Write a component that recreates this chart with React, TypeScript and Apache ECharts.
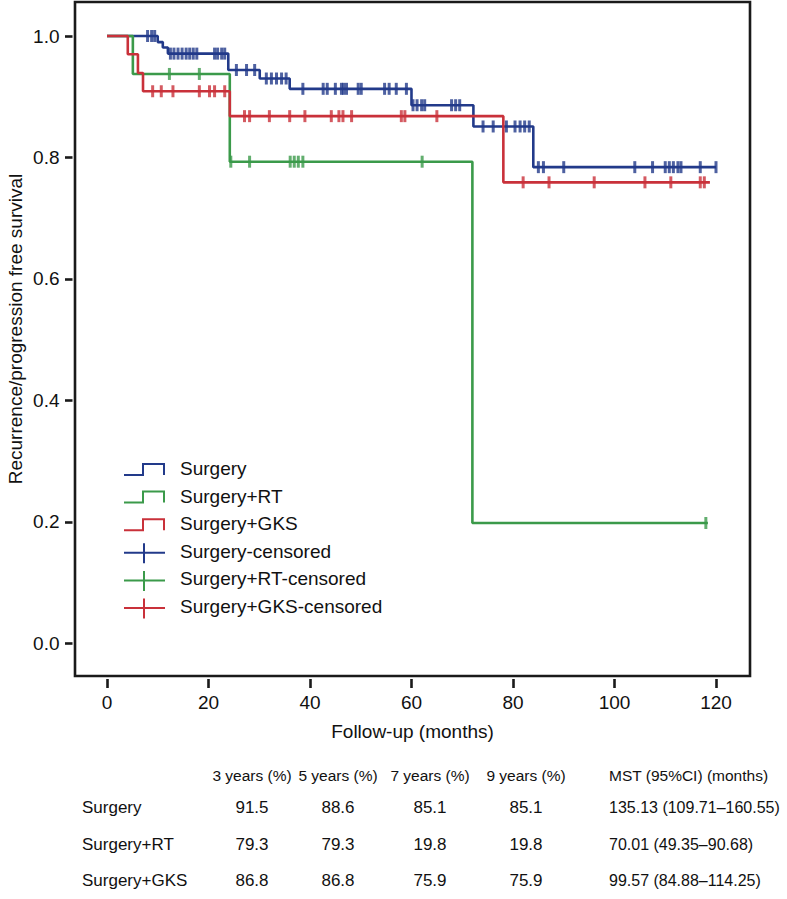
import React, { useEffect, useRef } from "react";
import * as echarts from "echarts";

const FONT = "'Liberation Sans', Arial, Helvetica, sans-serif";

// Kaplan-Meier step data (time in months, survival proportion)
const surgeryTimes = [0, 10.0, 11.0, 12.0, 23.9, 30.1, 36.0, 60.0, 72.2, 84.0, 120.0];
const surgerySurv = [1.0, 0.99, 0.981, 0.971, 0.944, 0.93, 0.913, 0.886, 0.851, 0.784, 0.784];
const rtTimes = [0, 5.1, 24.2, 72.0, 118.4];
const rtSurv = [1.0, 0.9375, 0.793, 0.198, 0.198];
const gksTimes = [0, 4.1, 6.1, 7.1, 24.2, 78.1, 118.8];
const gksSurv = [1.0, 0.97, 0.939, 0.909, 0.868, 0.759, 0.759];

// censored observation times (months)
const surgeryCensored = [
  8.0, 8.8, 9.4, 12.5, 13.2, 14.0, 14.8, 15.6, 16.3, 17.0, 17.7, 21.2, 21.8, 22.6, 23.2,
  25.5, 27.5, 29.1, 31.4, 32.4, 33.4, 34.4, 35.3, 38.6, 42.6, 43.4, 45.0, 46.2, 46.6, 47.2,
  49.5, 50.1, 54.7, 55.6, 57.0, 59.0, 60.3, 61.1, 62.0, 62.6, 67.9, 68.7, 69.5, 74.1, 76.1,
  78.7, 80.4, 81.4, 82.3, 83.2, 85.0, 86.0, 90.0, 104.0, 107.5, 110.0, 110.8, 111.6, 112.5,
  113.1, 116.9, 120.0,
];
const rtCensored = [12.3, 18.2, 24.4, 28.1, 36.1, 36.9, 37.7, 38.6, 62.1, 118.0];
const gksCensored = [
  9.0, 10.7, 13.0, 18.2, 20.2, 21.2, 23.2, 27.1, 28.1, 32.0, 36.0, 39.0, 44.2, 45.7, 46.5,
  48.2, 58.0, 58.7, 65.0, 82.0, 87.1, 96.0, 106.0, 111.1, 116.9, 117.7,
];

const xTicks = [0, 20, 40, 60, 80, 100, 120];
const yTicks = [0, 0.2, 0.4, 0.6, 0.8, 1.0];

const groupNames = ["Surgery", "Surgery+RT", "Surgery+GKS"];
const legendNames = [
  "Surgery",
  "Surgery+RT",
  "Surgery+GKS",
  "Surgery-censored",
  "Surgery+RT-censored",
  "Surgery+GKS-censored",
];

// summary table
const tableHeaders = ["3 years (%)", "5 years (%)", "7 years (%)", "9 years (%)", "MST (95%CI) (months)"];
const tableRows = ["Surgery", "Surgery+RT", "Surgery+GKS"];
const year3 = ["91.5", "79.3", "86.8"];
const year5 = ["88.6", "79.3", "86.8"];
const year7 = ["85.1", "19.8", "75.9"];
const year9 = ["85.1", "19.8", "75.9"];
const mst = ["135.13 (109.71\u2013160.55)", "70.01 (49.35\u201390.68)", "99.57 (84.88\u2013114.25)"];

const COLORS = ["#223a8a", "#3b9a4a", "#c9313a"];

function survAt(times: number[], surv: number[], t: number) {
  let v = surv[0];
  for (let i = 0; i < times.length; i++) if (times[i] <= t) v = surv[i];
  return v;
}

export default function App() {
  const ref = useRef<HTMLDivElement>(null);
  useEffect(() => {
    if (!ref.current) return;
    const chart = echarts.init(ref.current, null, { renderer: "svg" });
    const curves = [
      [surgeryTimes, surgerySurv, surgeryCensored],
      [rtTimes, rtSurv, rtCensored],
      [gksTimes, gksSurv, gksCensored],
    ] as number[][][];

    const series: any[] = [];
    // draw order: green, red, blue on top
    [1, 2, 0].forEach((g) => {
      const [times, surv] = curves[g];
      series.push({
        name: groupNames[g],
        type: "line",
        step: "end",
        symbol: "none",
        data: times.map((t, i) => [t, surv[i]]),
        lineStyle: { color: COLORS[g], width: 2.6 },
        z: 2 + g,
      });
    });
    [1, 2, 0].forEach((g) => {
      const [times, surv, cens] = curves[g];
      series.push({
        name: legendNames[3 + g],
        type: "scatter",
        symbol: "rect",
        symbolSize: [3, 12],
        data: cens.map((t) => [t, survAt(times, surv, t)]),
        itemStyle: { color: COLORS[g] },
        z: 5 + g,
      });
    });

    const graphic: any[] = [];
    // y axis title
    graphic.push({
      type: "text",
      x: 15,
      y: 329,
      rotation: Math.PI / 2,
      style: {
        text: "Recurrence/progression free survival",
        fontSize: 19,
        fontFamily: FONT,
        fill: "#111",
        align: "center",
        verticalAlign: "middle",
      },
    });
    // legend
    legendNames.forEach((name, i) => {
      const yc = 468.5 + i * 27.6;
      const color = COLORS[i % 3];
      if (i < 3) {
        graphic.push({
          type: "polyline",
          shape: {
            points: [
              [124, yc + 6.5],
              [143, yc + 6.5],
              [143, yc - 4.5],
              [164, yc - 4.5],
              [164, yc + 6.5],
            ],
          },
          style: { stroke: color, lineWidth: 2, fill: "none" },
        });
      } else {
        graphic.push({
          type: "line",
          shape: { x1: 124, y1: yc + 1.5, x2: 165, y2: yc + 1.5 },
          style: { stroke: color, lineWidth: 2 },
        });
        graphic.push({
          type: "line",
          shape: { x1: 144, y1: yc - 8, x2: 144, y2: yc + 12 },
          style: { stroke: color, lineWidth: 2 },
        });
      }
      graphic.push({
        type: "text",
        x: 180,
        y: yc,
        style: {
          text: name,
          fontSize: 19,
          fontFamily: FONT,
          fill: "#111",
          align: "left",
          verticalAlign: "middle",
        },
      });
    });
    // table
    const colX = [252, 338, 430, 526];
    const mstX = 609;
    const headerY = 775;
    const rowY = [807, 844, 880];
    tableHeaders.forEach((h, i) => {
      graphic.push({
        type: "text",
        x: i < 4 ? colX[i] : mstX,
        y: headerY,
        style: {
          text: h,
          fontSize: 15.5,
          fontFamily: FONT,
          fill: "#111",
          align: i < 4 ? "center" : "left",
          verticalAlign: "middle",
        },
      });
    });
    tableRows.forEach((r, j) => {
      const vals = [year3[j], year5[j], year7[j], year9[j]];
      graphic.push({
        type: "text",
        x: 82,
        y: rowY[j],
        style: { text: r, fontSize: 17, fontFamily: FONT, fill: "#111", align: "left", verticalAlign: "middle" },
      });
      vals.forEach((v, i) => {
        graphic.push({
          type: "text",
          x: colX[i],
          y: rowY[j],
          style: { text: v, fontSize: 17, fontFamily: FONT, fill: "#111", align: "center", verticalAlign: "middle" },
        });
      });
      graphic.push({
        type: "text",
        x: mstX,
        y: rowY[j],
        style: { text: mst[j], fontSize: 16, fontFamily: FONT, fill: "#111", align: "left", verticalAlign: "middle" },
      });
    });

    chart.setOption({
      animation: false,
      textStyle: { fontFamily: FONT },
      grid: {
        left: 75,
        right: 37,
        top: 2,
        bottom: 223,
        show: true,
        borderColor: "#1a1a1a",
        borderWidth: 2.6,
        backgroundColor: "transparent",
      },
      xAxis: {
        type: "value",
        min: -6.3,
        max: 126.7,
        offset: 3,
        axisLine: { show: false, onZero: false },
        splitLine: { show: false },
        axisTick: {
          show: true,
          customValues: xTicks,
          length: 9,
          lineStyle: { color: "#1a1a1a", width: 2.6 },
        },
        axisLabel: {
          customValues: xTicks,
          fontSize: 19,
          color: "#111",
          margin: 14,
          fontFamily: FONT,
        },
        name: "Follow-up (months)",
        nameLocation: "middle",
        nameGap: 43,
        nameTextStyle: { fontSize: 19, color: "#111", fontFamily: FONT },
      },
      yAxis: {
        type: "value",
        min: -0.054,
        max: 1.056,
        offset: 2.5,
        axisLine: { show: false, onZero: false },
        splitLine: { show: false },
        axisTick: {
          show: true,
          customValues: yTicks,
          length: 7.5,
          lineStyle: { color: "#1a1a1a", width: 2.6 },
        },
        axisLabel: {
          customValues: yTicks,
          formatter: (v: number) => v.toFixed(1),
          fontSize: 19,
          color: "#111",
          margin: 13,
          fontFamily: FONT,
        },
      },
      series,
      graphic,
    });
    return () => chart.dispose();
  }, []);
  return (
    <div
      ref={ref}
      style={{ position: "absolute", left: 0, top: 0, width: 787, height: 899, background: "#fff" }}
    />
  );
}
